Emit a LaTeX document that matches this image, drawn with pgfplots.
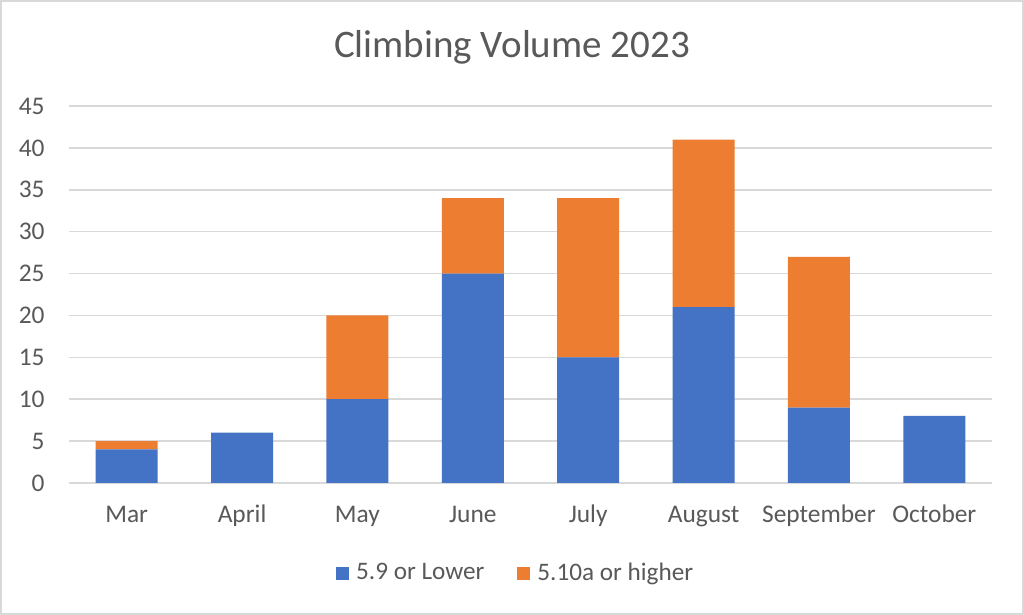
\documentclass[border=0pt]{standalone}
\usepackage{pgfplots}
\pgfplotsset{compat=1.18}
\usepackage{fontspec}
\setmainfont{Carlito}
\definecolor{cblue}{HTML}{4472C4}
\definecolor{corange}{HTML}{ED7D31}
\definecolor{txt}{HTML}{595959}
\definecolor{grd}{HTML}{D9D9D9}
\begin{document}
\begin{tikzpicture}
\path[use as bounding box] (-34.5pt,-66pt) rectangle (477.5pt,241.5pt);
\fill[white] (-34.5pt,-66pt) rectangle (477.5pt,241.5pt);
\draw[grd, line width=1pt] (-34pt,-65.5pt) rectangle (477pt,241pt);
\begin{axis}[
  at={(0,0)}, anchor=south west,
  scale only axis,
  width=461.5pt, height=188.5pt,
  ybar stacked,
  bar width=31pt,
  xmin=-0.5, xmax=7.5,
  ymin=0, ymax=45,
  ytick={0,5,...,45},
  xtick=data,
  xticklabels={Mar,April,May,June,July,August,September,October},
  axis x line*=bottom,
  axis y line*=left,
  x axis line style={draw=grd, line width=0.75pt, -},
  y axis line style={draw=none},
  ymajorgrids,
  grid style={grd, line width=0.75pt},
  major tick length=0pt,
  tick label style={font=\fontsize{12.7}{14}\selectfont, text=txt},
  /pgf/number format/assume math mode=true,
  yticklabel style={anchor=east, inner sep=0pt, xshift=-12pt},
  xticklabel style={anchor=base, inner sep=0pt, yshift=-20pt},
  title={Climbing Volume 2023},
  title style={font=\fontsize{19.5}{22}\selectfont, text=txt, at={(0.48,1)}, anchor=center, yshift=23.5pt},
  legend style={draw=none, fill=none, at={(0.485,-0.239)}, anchor=center,
    font=\fontsize{12.6}{14}\selectfont, text=txt, legend columns=2,
    /tikz/every even column/.append style={column sep=14.5pt},
    /tikz/every odd column/.append style={column sep=1.5pt}},
  legend image code/.code={\fill[#1] (0pt,-3.25pt) rectangle (6.5pt,3.25pt);},
  clip=false,
]
\addplot[fill=cblue, draw=none] coordinates {(0,4) (1,6) (2,10) (3,25) (4,15) (5,21) (6,9) (7,8)};
\addplot[fill=corange, draw=none] coordinates {(0,1) (1,0) (2,10) (3,9) (4,19) (5,20) (6,18) (7,0)};
\legend{5.9 or Lower, 5.10a or higher}
\end{axis}
\end{tikzpicture}
\end{document}
